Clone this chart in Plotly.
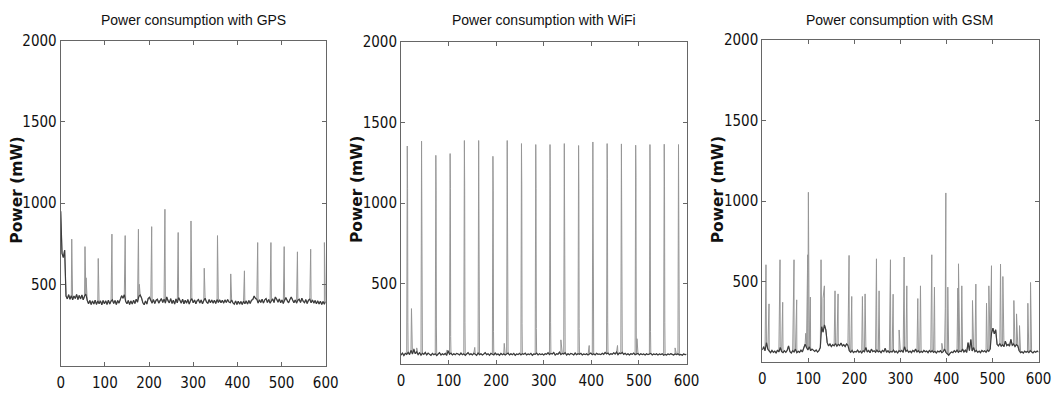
import plotly.graph_objects as go

W, H = 1054, 395

titles = ["Power consumption with GPS", "Power consumption with WiFi", "Power consumption with GSM"]
y_label = "Power (mW)"
x_ticks = [0, 100, 200, 300, 400, 500, 600]
y_ticks = [500, 1000, 1500, 2000]

# Baseline samples every 3 s (t = 0, 3, ..., 600)
gps_base = [
    950, 690, 665, 710, 428, 410, 436, 408, 430, 405,
    428, 412, 438, 406, 432, 410, 434, 404, 428, 440,
    402, 380, 400, 376, 398, 378, 402, 376, 398, 380,
    398, 374, 400, 380, 398, 376, 402, 378, 396, 404,
    382, 400, 376, 400, 384, 408, 430, 414, 436, 396,
    380, 400, 376, 398, 378, 402, 382, 408, 390, 426,
    434, 416, 386, 374, 398, 378, 412, 420, 396, 384,
    406, 382, 402, 408, 384, 404, 412, 388, 408, 384,
    422, 398, 386, 412, 382, 402, 378, 410, 386, 418,
    402, 384, 408, 380, 402, 384, 406, 378, 400, 412,
    386, 404, 380, 400, 406, 384, 404, 380, 400, 414,
    392, 382, 406, 386, 404, 384, 402, 382, 406, 388,
    404, 386, 402, 384, 404, 388, 406, 390, 386, 404,
    386, 378, 398, 376, 396, 378, 394, 376, 396, 380,
    398, 378, 400, 382, 402, 406, 428, 412, 408, 384,
    404, 388, 408, 384, 404, 412, 388, 406, 384, 402,
    410, 388, 422, 408, 390, 410, 386, 404, 382, 402,
    418, 398, 386, 406, 422, 404, 386, 404, 384, 402,
    408, 388, 414, 394, 386, 406, 382, 402, 408, 386,
    404, 384, 400, 380, 398, 378, 396, 376, 394, 378,
    394,
]
gps_spike_t = [25, 55, 57.5, 85, 116, 146, 176, 178, 206, 236, 266, 295, 325,
               355, 385, 416, 446, 476, 506, 536, 566, 597]
gps_spike_v = [778, 732, 540, 659, 809, 800, 839, 500, 855, 962, 819, 890, 599,
               800, 564, 583, 757, 757, 732, 700, 716, 757]

wifi_base = [
    55, 68, 52, 66, 60, 72, 58, 85, 62, 90,
    64, 75, 58, 70, 55, 66, 60, 72, 56, 68,
    60, 54, 66, 58, 64, 52, 62, 70, 56, 64,
    58, 66, 54, 82, 60, 68, 56, 64, 58, 66,
    62, 56, 68, 58, 64, 54, 62, 70, 58, 64,
    56, 66, 60, 54, 68, 58, 64, 56, 62, 70,
    58, 64, 54, 66, 60, 56, 68, 58, 62, 54,
    66, 58, 64, 56, 62, 68, 56, 64, 58, 66,
    54, 62, 58, 66, 56, 64, 60, 68, 56, 62,
    58, 66, 54, 62, 60, 68, 56, 64, 58, 62,
    56, 64, 60, 70, 58, 66, 62, 72, 56, 64,
    60, 74, 58, 66, 62, 70, 56, 64, 58, 66,
    62, 56, 68, 58, 64, 60, 66, 56, 62, 58,
    64, 56, 62, 68, 58, 64, 56, 66, 60, 62,
    58, 66, 60, 72, 62, 68, 58, 64, 60, 70,
    62, 74, 58, 68, 64, 72, 60, 66, 58, 64,
    56, 64, 60, 68, 58, 62, 66, 56, 64, 58,
    62, 56, 64, 58, 60, 66, 56, 62, 58, 64,
    56, 62, 58, 64, 54, 60, 56, 62, 58, 64,
    60, 56, 62, 58, 64, 56, 60, 54, 62, 58,
    60,
]
wifi_spike_t = [13.2, 43.2, 73.2, 103.2, 133.2, 163.2, 193.2, 223.2, 253.2, 283.2,
                313.2, 343.2, 373.2, 403.2, 433.2, 463.2, 493.2, 523.2, 553.2, 583.2]
wifi_spike_peak = [1354, 1384, 1296, 1307, 1388, 1388, 1290, 1388, 1369, 1363,
                   1363, 1369, 1357, 1379, 1369, 1367, 1359, 1363, 1365, 1363]
wifi_spike_mid = [1090, 1090, 1080, 1090, 1100, 1100, 1080, 1100, 1100, 1090,
                  1100, 1100, 1090, 1100, 1150, 1100, 1160, 1100, 1100, 1090]
wifi_spike_low = [260, 270, 230, 170, 260, 250, 200, 190, 250, 220,
                  260, 260, 220, 210, 260, 220, 180, 200, 260, 220]
wifi_small_t = [22, 27, 33, 96, 155, 217, 336, 395.5, 455, 496, 576]
wifi_small_v = [344, 95, 100, 85, 103, 128, 150, 115, 115, 157, 100]

gsm_base = [
    75, 95, 70, 120, 80, 66, 58, 72, 60, 68,
    55, 74, 62, 90, 65, 58, 70, 60, 72, 100,
    64, 56, 70, 62, 80, 58, 66, 60, 74, 62,
    88, 110, 90, 75, 95, 70, 80, 72, 66, 75,
    62, 70, 90, 220, 185, 230, 200, 120, 100, 112,
    96, 108, 100, 115, 98, 110, 102, 118, 100, 108,
    96, 112, 104, 70, 60, 72, 58, 66, 62, 74,
    60, 68, 56, 70, 64, 90, 62, 72, 58, 80,
    64, 70, 60, 74, 62, 68, 58, 72, 64, 85,
    60, 70, 58, 66, 62, 74, 60, 68, 56, 70,
    64, 72, 60, 95, 66, 74, 60, 68, 58, 72,
    64, 80, 62, 70, 58, 66, 60, 72, 64, 68,
    58, 72, 62, 70, 60, 66, 56, 68, 62, 70,
    58, 64, 80, 60, 48, 42, 55, 62, 58, 70,
    62, 74, 60, 68, 64, 80, 62, 74, 60, 120,
    70, 140, 68, 90, 64, 72, 60, 68, 58, 72,
    64, 70, 60, 74, 66, 80, 180, 210, 175, 200,
    110, 100, 115, 98, 108, 96, 130, 102, 110, 98,
    140, 104, 112, 96, 108, 100, 70, 58, 64, 56,
    68, 60, 66, 58, 70, 62, 56, 66, 60, 68,
    62,
]
gsm_spike_t = [8.0, 14.6, 38.5, 44.3, 68.9, 74.7, 94.3, 98.6, 100.1, 104.4,
               127.6, 132.0, 134.9, 158.0, 164.6, 188.5, 194.3, 217.5, 223.3, 248.0,
               253.7, 278.4, 284.2, 297.2, 308.1, 313.9, 337.8, 343.6, 368.2, 374.0,
               390.0, 397.5, 398.7, 403.0, 424.7, 426.2, 433.4, 456.6, 463.9, 487.1,
               492.1, 497.9, 517.5, 522.6, 546.5, 552.3, 558.8, 576.9, 582.7]
gsm_spike_v = [604, 361, 635, 371, 635, 386, 178, 666, 1054, 403,
               635, 396, 473, 442, 423, 662, 407, 407, 423, 641,
               442, 635, 421, 199, 652, 473, 394, 473, 666, 465,
               116, 330, 1050, 465, 459, 610, 473, 382, 484, 365,
               473, 598, 608, 531, 382, 299, 226, 365, 494]

BASE_STEP = 3


def merge(base, *extra):
    pts = [(BASE_STEP * i, v) for i, v in enumerate(base)]
    for ts, vs in extra:
        pts += list(zip(ts, vs))
    pts.sort(key=lambda p: p[0])
    return [p[0] for p in pts], [p[1] for p in pts]


def base_only(base):
    return [BASE_STEP * i for i in range(len(base))], list(base)


series = [
    merge(gps_base, (gps_spike_t, gps_spike_v)),
    merge(wifi_base,
          (wifi_spike_t, wifi_spike_peak),
          ([t + 0.6 for t in wifi_spike_t], wifi_spike_mid),
          ([t + 1.2 for t in wifi_spike_t], wifi_spike_low),
          (wifi_small_t, wifi_small_v)),
    merge(gsm_base, (gsm_spike_t, gsm_spike_v)),
]
bases = [base_only(gps_base), base_only(wifi_base), base_only(gsm_base)]

# pixel geometry of each axes box: (left, right, top, bottom)
boxes = [(60.7, 325.7, 40.7, 365.5), (401, 686.5, 42, 364), (762.3, 1038.5, 40, 362)]

tick_font = dict(family="DejaVu Sans Condensed, Liberation Sans, sans-serif",
                 size=15, color="#111")

fig = go.Figure()
layout = dict(width=W, height=H, margin=dict(l=0, r=0, t=0, b=0, autoexpand=False),
              paper_bgcolor="white", plot_bgcolor="white", showlegend=False)
annotations = []
for k, ((x, y), (bx, by), (l, r, t, b)) in enumerate(zip(series, bases, boxes)):
    n = "" if k == 0 else str(k + 1)
    fig.add_trace(go.Scatter(x=x, y=y, mode="lines", line=dict(color="#969696", width=1),
                             xaxis="x" + n, yaxis="y" + n, hoverinfo="skip"))
    fig.add_trace(go.Scatter(x=bx, y=by, mode="lines", line=dict(color="#3c3c3c", width=1.2),
                             xaxis="x" + n, yaxis="y" + n, hoverinfo="skip"))
    common = dict(showline=True, linecolor="#666", linewidth=1, mirror="ticks",
                  ticks="inside", ticklen=4, tickcolor="#666", showgrid=False,
                  zeroline=False, tickfont=tick_font, automargin=False)
    layout["xaxis" + n] = dict(common, domain=[l / W, r / W], range=[0, 600],
                               tickvals=x_ticks, anchor="y" + n, ticklabelstandoff=3)
    layout["yaxis" + n] = dict(common, domain=[1 - b / H, 1 - t / H], range=[0, 2000],
                               tickvals=y_ticks, anchor="x" + n, ticklabelstandoff=0)
    annotations.append(dict(text=titles[k], x=(l + r) / 2 / W, y=1 - 20 / H,
                            xref="paper", yref="paper", showarrow=False,
                            xanchor="center", yanchor="middle",
                            font=dict(family="Liberation Sans, Arial, sans-serif", size=14, color="#111")))
    annotations.append(dict(text="<b>" + y_label + "</b>", x=(l - 44) / W, y=1 - 190 / H,
                            xref="paper", yref="paper", showarrow=False, textangle=-90,
                            xanchor="center", yanchor="middle",
                            font=dict(family="DejaVu Sans, sans-serif", size=15.5, color="#111")))
layout["annotations"] = annotations
fig.update_layout(**layout)
fig.write_html("out.html", config={"displayModeBar": False},
               post_script="document.body.style.margin='0px';")
